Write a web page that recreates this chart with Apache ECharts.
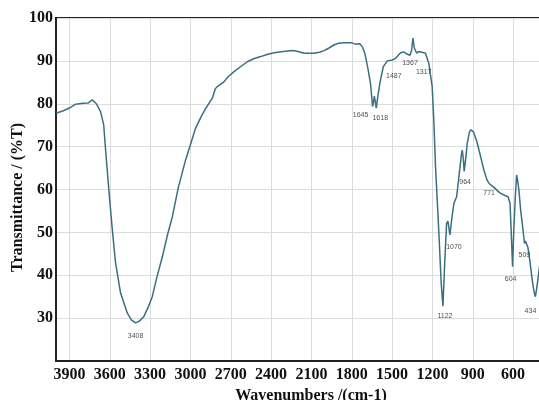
<!DOCTYPE html>
<html lang="en">
<head>
    <meta charset="UTF-8">
    <title>FTIR Spectrum</title>
    <script src="https://cdn.jsdelivr.net/npm/echarts@6/dist/echarts.min.js"></script>
    <style>
        html, body { margin: 0; padding: 0; background: #fff; }
    </style>
</head>
<body>
    <div id="main" style="width: 539px;height:400px;"></div>
    <script type="text/javascript">

        // spectrum, wavenumber (cm-1) and transmittance (%T)
        const wavenumbers = [
            4000, 3950, 3900, 3854, 3800, 3760, 3730, 3700, 3668, 3645,
            3631, 3607, 3581, 3557, 3520, 3470, 3440, 3408, 3380, 3348,
            3315, 3284, 3250, 3209, 3170, 3135, 3090, 3036, 2990, 2962,
            2920, 2887, 2860, 2837, 2815, 2800, 2751, 2720, 2676, 2620,
            2577, 2530, 2478, 2430, 2379, 2310, 2240, 2200, 2155, 2081,
            2040, 2006, 1970, 1932, 1900, 1858, 1800, 1771, 1740, 1720,
            1703, 1678, 1660, 1645, 1632, 1618, 1605, 1591, 1566, 1536,
            1499, 1487, 1474, 1437, 1413, 1390, 1367, 1355, 1345, 1335,
            1317, 1300, 1289, 1252, 1227, 1202, 1190, 1177, 1152, 1135,
            1122, 1110, 1095, 1085, 1070, 1055, 1040, 1020, 1003, 985,
            978, 970, 964, 955, 941, 925, 916, 900, 891, 870,
            854, 835, 817, 795, 779, 771, 742, 720, 693, 660,
            638, 623, 614, 604, 594, 584, 574, 566, 557, 545,
            532, 515, 509, 500, 490, 483, 470, 458, 445, 434,
            425, 416, 400
        ];
        const transmittance = [
            77.8, 78.3, 79.0, 79.9, 80.1, 80.2, 80.9, 80.0, 78.1, 75.0,
            69.2, 59.9, 50.6, 42.9, 35.9, 31.2, 29.6, 28.9, 29.3, 30.3,
            32.5, 35.0, 39.5, 44.3, 49.5, 53.6, 60.5, 66.9, 71.5, 74.3,
            77.0, 78.9, 80.2, 81.3, 83.5, 84.0, 85.1, 86.3, 87.5, 88.8,
            89.8, 90.5, 91.0, 91.5, 91.9, 92.2, 92.4, 92.2, 91.8, 91.8,
            92.0, 92.4, 93.0, 93.7, 94.1, 94.2, 94.2, 93.9, 94.0, 93.2,
            91.8, 87.9, 84.5, 79.3, 81.8, 79.0, 82.0, 84.8, 88.6, 90.0,
            90.2, 90.0, 90.6, 91.9, 92.1, 91.6, 91.3, 92.5, 95.3, 93.0,
            91.8, 92.2, 92.4, 91.8, 89.4, 84.0, 76.2, 65.3, 49.8, 38.2,
            32.8, 42.0, 52.1, 52.6, 49.4, 53.5, 56.8, 58.3, 63.0, 68.0,
            69.2, 67.0, 64.2, 66.5, 70.8, 73.4, 73.9, 73.6, 73.1, 71.2,
            69.2, 66.8, 64.5, 62.3, 61.4, 61.1, 60.5, 59.8, 59.1, 58.6,
            58.3, 56.8, 50.0, 42.0, 51.3, 58.0, 63.4, 62.0, 59.9, 55.5,
            52.1, 47.4, 48.0, 47.8, 46.5, 45.1, 42.0, 38.9, 36.3, 35.0,
            36.8, 38.9, 43.0
        ];

        // labelled bands
        const peakWavenumbers = [3408, 1645, 1618, 1487, 1367, 1317, 1122, 1070, 964, 771, 604, 509, 434];
        const peakTransmittance = [28.9, 79.3, 79.0, 90.0, 91.3, 91.8, 32.8, 49.4, 64.2, 61.1, 42.0, 48.0, 35.0];

        // axis ticks
        const xTicks = [3900, 3600, 3300, 3000, 2700, 2400, 2100, 1800, 1500, 1200, 900, 600];
        const yTicks = [30, 40, 50, 60, 70, 80, 90, 100];

        // where each band label sits relative to its point (pixels)
        const peakLabelOffsets = [
            [0, 13], [-12, 8], [4, 10], [0, 15], [0, 8], [7, 19], [2, 10],
            [4, 12], [1, 11], [-1, 8], [-2, 12], [-1, 14], [-5, 14]
        ];

        const serif = 'Liberation Serif';
        const lineColor = '#3b6f80';

        const spectrum = wavenumbers.map((w, i) => [w, transmittance[i]]);
        const peaks = peakWavenumbers.map((w, i) => ({
            value: [w, peakTransmittance[i]],
            label: { offset: peakLabelOffsets[i] }
        }));

        const myChart = echarts.init(document.getElementById('main'));

        const option = {
            backgroundColor: '#ffffff',
            animation: false,
            grid: {
                left: 56,
                top: 18,
                width: 484,
                height: 343,
                containLabel: false,
                outerBoundsMode: 'none',
                show: true,
                borderColor: '#222',
                borderWidth: 2
            },
            xAxis: {
                type: 'value',
                inverse: true,
                min: 400,
                max: 4000,
                name: 'Wavenumbers /(cm-1)',
                nameLocation: 'middle',
                nameGap: 24,
                nameTextStyle: {
                    fontFamily: serif,
                    fontWeight: 'bold',
                    fontSize: 16,
                    color: '#111',
                    padding: [0, 0, 0, 26]
                },
                axisLine: { show: true, lineStyle: { color: '#222', width: 2 } },
                axisTick: { show: false, customValues: xTicks },
                axisLabel: {
                    customValues: xTicks,
                    formatter: v => String(v),
                    fontFamily: serif,
                    fontWeight: 'bold',
                    fontSize: 16,
                    color: '#111',
                    margin: 6
                },
                splitLine: { show: true, lineStyle: { color: '#dcdcdc', width: 1 } }
            },
            yAxis: {
                type: 'value',
                min: 20,
                max: 100,
                interval: 10,
                name: 'Transmittance / (%T)',
                nameLocation: 'middle',
                nameMoveOverlap: false,
                nameGap: 30,
                nameTextStyle: {
                    fontFamily: serif,
                    fontWeight: 'bold',
                    fontSize: 16,
                    color: '#111',
                    padding: [0, 16, 0, 0]
                },
                axisLine: { show: true, lineStyle: { color: '#222', width: 2 } },
                axisTick: { show: false },
                axisLabel: {
                    formatter: v => (yTicks.indexOf(v) >= 0 ? String(v) : ''),
                    fontFamily: serif,
                    fontWeight: 'bold',
                    fontSize: 16,
                    color: '#111',
                    margin: 3
                },
                splitLine: { show: true, lineStyle: { color: '#dcdcdc', width: 1 } }
            },
            series: [
                {
                    name: 'Spectrum',
                    type: 'line',
                    data: spectrum,
                    showSymbol: false,
                    lineStyle: { color: lineColor, width: 1.5 },
                    z: 3
                },
                {
                    name: 'Bands',
                    type: 'scatter',
                    data: peaks,
                    symbolSize: 1,
                    itemStyle: { color: 'rgba(0,0,0,0)' },
                    label: {
                        show: true,
                        position: 'inside',
                        formatter: p => String(p.value[0]),
                        fontFamily: 'Liberation Sans',
                        fontSize: 7,
                        color: '#222'
                    },
                    z: 4
                }
            ]
        };

        myChart.setOption(option);
    </script>
</body>
</html>
